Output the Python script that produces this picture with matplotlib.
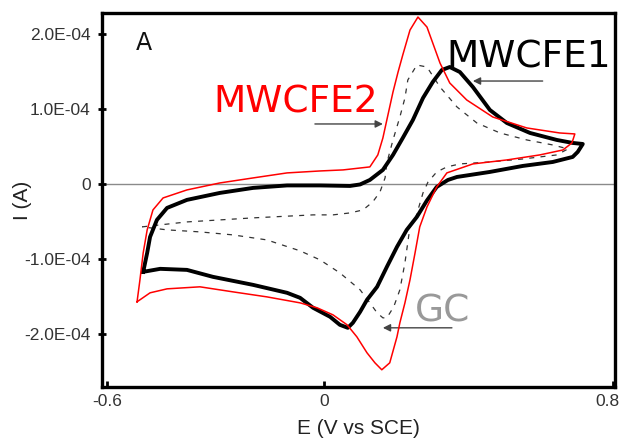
import numpy as np
import matplotlib
matplotlib.use("Agg")
import matplotlib.pyplot as plt
import matplotlib.transforms as mtransforms

# MWCFE1 (thick black), potential in V, current in units of 1e-4 A
e1 = [-0.500, -0.489, -0.481, -0.462, -0.434, -0.379, -0.288, -0.196, -0.102, -0.011,
      0.072, 0.100, 0.127, 0.163, 0.191, 0.218, 0.246, 0.274, 0.301, 0.326, 0.348,
      0.376, 0.412, 0.459, 0.506, 0.570, 0.644, 0.688, 0.716,
      0.702, 0.688, 0.633, 0.550, 0.459, 0.368, 0.343, 0.312, 0.285, 0.257, 0.229,
      0.202, 0.174, 0.147, 0.119, 0.100, 0.080, 0.066, 0.044, 0.017, -0.030,
      -0.066, -0.102, -0.196, -0.307, -0.379, -0.453, -0.500]
i1 = [-1.173, -0.920, -0.707, -0.480, -0.320, -0.213, -0.120, -0.053, -0.020, -0.020,
      -0.027, -0.007, 0.053, 0.187, 0.387, 0.613, 0.853, 1.147, 1.360, 1.520, 1.560,
      1.493, 1.293, 0.987, 0.813, 0.680, 0.587, 0.547, 0.533,
      0.427, 0.360, 0.293, 0.240, 0.160, 0.093, 0.053, -0.040, -0.220, -0.440, -0.613,
      -0.840, -1.107, -1.373, -1.547, -1.707, -1.853, -1.920, -1.880, -1.773, -1.653,
      -1.520, -1.453, -1.347, -1.240, -1.147, -1.133, -1.173]

# MWCFE2 (thin red)
e2 = [-0.517, -0.509, -0.500, -0.489, -0.473, -0.445, -0.379, -0.288, -0.196, -0.102,
      -0.011, 0.053, 0.127, 0.149, 0.163, 0.177, 0.191, 0.205, 0.218, 0.238, 0.260,
      0.285, 0.301, 0.321, 0.348, 0.395, 0.467, 0.561, 0.652, 0.694,
      0.686, 0.661, 0.597, 0.506, 0.412, 0.340, 0.312, 0.285, 0.265, 0.252, 0.238,
      0.224, 0.210, 0.202, 0.182, 0.160, 0.141, 0.119, 0.091, 0.064, 0.025, -0.019, -0.066,
      -0.158, -0.252, -0.343, -0.434, -0.481, -0.517]
i2 = [-1.573, -1.280, -0.920, -0.613, -0.347, -0.187, -0.080, 0.013, 0.080, 0.147,
      0.173, 0.187, 0.227, 0.387, 0.613, 0.920, 1.227, 1.493, 1.720, 2.053, 2.227,
      2.093, 1.880, 1.613, 1.347, 1.120, 0.893, 0.747, 0.680, 0.667,
      0.547, 0.453, 0.387, 0.320, 0.267, 0.147, -0.040, -0.307, -0.573, -0.920, -1.280,
      -1.587, -1.853, -2.040, -2.387, -2.480, -2.387, -2.253, -2.040, -1.880, -1.747, -1.653, -1.587,
      -1.507, -1.440, -1.373, -1.400, -1.453, -1.573]

# GC (thin dashed)
e3 = [-0.503, -0.379, -0.196, -0.030, 0.025, 0.072, 0.108, 0.135, 0.155, 0.169,
      0.174, 0.191, 0.210, 0.224, 0.232, 0.257, 0.285, 0.321, 0.368, 0.423, 0.487,
      0.561, 0.633, 0.675,
      0.644, 0.550, 0.459, 0.376, 0.340, 0.312, 0.288, 0.274, 0.252, 0.238, 0.224,
      0.210, 0.193, 0.174, 0.163, 0.147, 0.127, 0.100, 0.044, -0.011, -0.066, -0.158,
      -0.252, -0.343, -0.434, -0.503]
i3 = [-0.573, -0.507, -0.453, -0.413, -0.413, -0.387, -0.347, -0.240, -0.107, 0.080,
      0.280, 0.587, 0.893, 1.147, 1.387, 1.587, 1.560, 1.293, 1.027, 0.813, 0.680,
      0.587, 0.520, 0.467,
      0.387, 0.333, 0.293, 0.267, 0.227, 0.160, 0.027, -0.120, -0.480, -0.573, -1.053,
      -1.413, -1.640, -1.787, -1.787, -1.720, -1.587, -1.413, -1.187, -1.013, -0.893, -0.747,
      -0.680, -0.640, -0.613, -0.573]

scale = 1e-4
xticks = [-0.6, 0, 0.8]
xticklabels = ["-0.6", "0", "0.8"]
yticks = [2e-4, 1e-4, 0, -1e-4, -2e-4]
yticklabels = ["2.0E-04", "1.0E-04", "0", "-1.0E-04", "-2.0E-04"]

fig = plt.figure(figsize=(6.23, 4.41), dpi=100)
ax = fig.add_axes([0.1637, 0.1224, 0.8234, 0.848])

ax.axhline(0, color="#8a8a8a", lw=1.0, zorder=1)
ax.plot(e3, np.array(i3) * scale, color="#333333", lw=0.9, ls=(0, (4, 5)), zorder=2)
ax.plot(e1, np.array(i1) * scale, color="black", lw=2.8, solid_joinstyle="round", zorder=3)
ax.plot(e2, np.array(i2) * scale, color="red", lw=1.1, zorder=4)

ax.set_xlim(-0.614, 0.805)
ax.set_ylim(-2.71e-4, 2.28e-4)
ax.set_xticks(xticks)
ax.set_xticklabels(xticklabels)
ax.set_yticks(yticks)
ax.set_yticklabels(yticklabels)

for s in ax.spines.values():
    s.set_linewidth(2.4)
ax.tick_params(axis="x", direction="in", length=4, width=2, pad=5,
               labelsize=12.5, labelcolor="#333333")
ax.tick_params(axis="y", direction="inout", length=6, width=2, pad=5,
               labelsize=12.5, labelcolor="#333333")
for lab in ax.get_xticklabels() + ax.get_yticklabels():
    lab.set_family("Liberation Sans")
# last x label sits at the figure edge, nudge it in a bit
last = ax.get_xticklabels()[-1]
last.set_transform(last.get_transform() +
                   mtransforms.ScaledTranslation(-6 / 100, 0, fig.dpi_scale_trans))

ax.set_xlabel("E (V vs SCE)", fontsize=15, family="Liberation Sans", color="#222222")
ax.xaxis.set_label_coords(0.5, -0.085)
ax.set_ylabel("I (A)", fontsize=15, family="Liberation Sans", color="#222222")
ax.yaxis.label.set_va("center")
ax.yaxis.set_label_coords(-0.155, 0.5)

ax.text(-0.52, 1.88e-4, "A", fontsize=17, color="#111111", va="center")

ax.text(-0.307, 0.947e-4, "MWCFE2", fontsize=27, color="red")
ax.text(0.340, 1.56e-4, "MWCFE1", fontsize=27, color="black")
ax.text(0.252, -1.84e-4, "GC", fontsize=27, color="#999999")

arrow = dict(arrowstyle="-|>", color="#444444", lw=1.0, mutation_scale=11,
             shrinkA=0, shrinkB=0)
ax.annotate("", xy=(0.163, 0.80e-4), xytext=(-0.025, 0.80e-4), arrowprops=arrow)
ax.annotate("", xy=(0.412, 1.373e-4), xytext=(0.605, 1.373e-4), arrowprops=arrow)
ax.annotate("", xy=(0.163, -1.92e-4), xytext=(0.354, -1.92e-4), arrowprops=arrow)

fig.savefig("out.png", dpi=100)
